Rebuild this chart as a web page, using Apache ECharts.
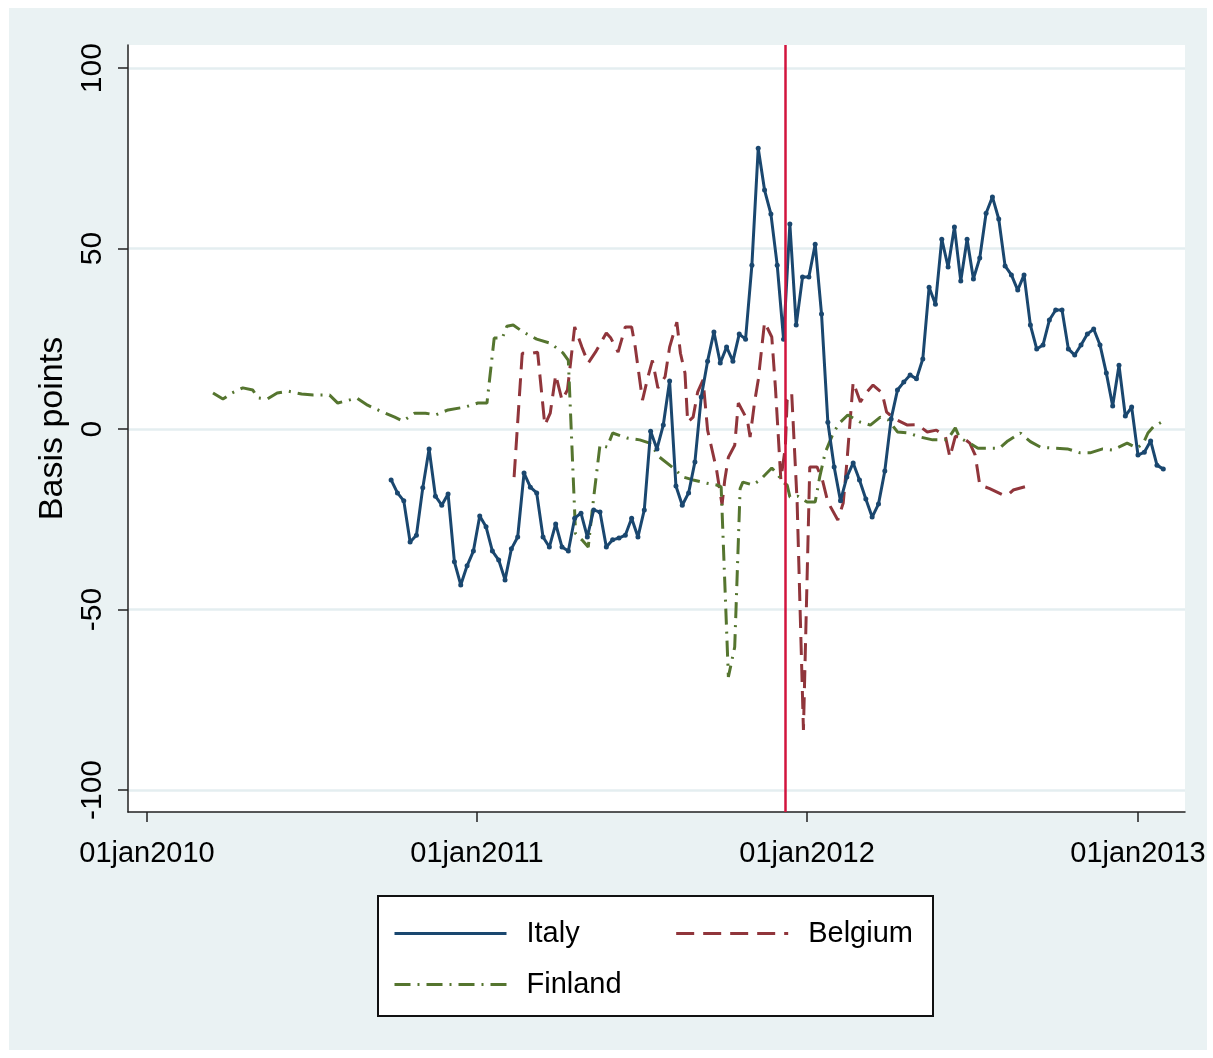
<!DOCTYPE html>
<html><head><meta charset="utf-8">
<script src="https://cdn.jsdelivr.net/npm/echarts@6/dist/echarts.min.js"></script>
<style>html,body{margin:0;padding:0;background:#fff}#c{width:1213px;height:1058px}</style>
</head><body><div id="c"></div>
<script>
// ---- data ----
const seriesNames = ['Italy', 'Belgium', 'Finland'];
const italyStart = '2010-09-28';   // weekly observations from this date
const italyValues = [
  -14.1, -17.7, -19.9, -31.3, -29.4, -16.3, -5.5, -18.6, -21.1, -18.0,
  -36.8, -43.2, -37.9, -33.8, -24.1, -27.1, -33.8, -36.3, -41.8, -33.2,
  -29.9, -12.2, -16.1, -17.7, -29.9, -32.7, -26.3, -32.7, -33.8, -24.7,
  -23.3, -29.9, -22.4, -23.0, -32.7, -30.7, -30.2, -29.4, -24.7, -29.9,
  -22.4, -0.6, -5.5, 1.1, 13.3, -15.8, -21.1, -17.7, -9.1, 8.9,
  18.8, 26.9, 18.3, 22.7, 18.8, 26.3, 24.9, 45.4, 77.8, 66.2,
  59.6, 45.4, 24.9, 56.8, 28.8, 42.1, 42.1, 51.2, 31.9, 1.9,
  -10.5, -19.9, -13.3, -9.4, -14.1, -19.4, -24.4, -20.8, -11.6, 2.8,
  10.8, 13.0, 15.0, 13.9, 19.4, 39.3, 34.6, 52.6, 44.9, 56.0,
  41.0, 52.6, 41.6, 47.4, 59.8, 64.3, 58.2, 45.2, 42.7, 38.5,
  42.7, 28.8, 22.2, 23.3, 30.2, 33.0, 33.0, 22.2, 20.5, 23.3,
  26.3, 27.7, 23.3, 15.5, 6.4, 17.7, 3.6, 6.1, -7.2, -6.4,
  -3.3, -10.0, -11.1
];
// days counted from 01jan2010
const belgiumDays = [
  406, 415, 426, 432, 440, 446, 452, 459, 465, 473, 481, 488, 496, 508, 513, 521, 529, 536, 540, 548,
  554, 559, 565, 573, 578, 586, 590, 595, 598, 604, 609, 615, 620, 625, 630, 636, 639, 643, 650, 654,
  664, 667, 672, 676, 683, 691, 695, 698, 701, 706, 708, 713, 719, 726, 733, 741, 747, 753, 764, 770,
  774, 781, 789, 796, 803, 813, 818, 827, 841, 852, 863, 873, 883, 888, 894, 903, 910, 916, 921, 932,
  947, 952, 958, 971
];
const belgiumValues = [
  -13.3, 21.0, 21.0, 21.3, 1.1, 4.4, 15.0, 8.0, 10.8, 28.3, 22.7, 18.3, 21.3, 26.6, 25.2, 21.3, 28.3, 28.3, 22.7, 8.0,
  14.4, 19.0, 11.4, 14.5, 22.7, 29.6, 21.0, 15.5, 1.9, 3.3, 10.2, 13.6, -0.3, -5.8, -11.4, -21.0, -14.1, -7.8, -4.5, 7.2,
  2.5, -2.2, 7.5, 13.6, 29.6, 25.5, 11.6, -1.1, -14.0, -5.0, 8.0, 10.0, -20.0, -83.4, -10.5, -10.5, -14.1, -20.2, -25.2, -20.5,
  -9.4, 13.0, 7.5, 10.2, 12.2, 10.0, 4.7, 2.8, 1.1, 1.2, -0.8, -0.3, -2.0, -7.8, -2.0, -2.5, -3.9, -7.2, -15.5, -16.5,
  -18.3, -18.3, -16.9, -16.0
];
const finlandDays = [
  73, 84, 94, 106, 117, 123, 133, 144, 156, 171, 184, 202, 211, 232, 244, 258, 274, 283, 296, 308,
  319, 333, 352, 366, 376, 384, 393, 398, 405, 416, 431, 446, 460, 466, 474, 481, 488, 494, 501, 509,
  515, 531, 545, 556, 567, 582, 593, 604, 619, 630, 635, 643, 650, 656, 659, 670, 678, 691, 698, 703,
  708, 711, 720, 730, 739, 744, 750, 759, 766, 775, 789, 800, 811, 820, 830, 842, 855, 869, 885, 894,
  899, 910, 919, 932, 943, 952, 966, 977, 988, 1002, 1018, 1032, 1043, 1057, 1068, 1084, 1095, 1102, 1107, 1113,
  1126
];
const finlandValues = [
  10.0, 8.3, 10.0, 11.4, 10.8, 8.6, 8.3, 10.0, 10.5, 9.7, 9.4, 9.4, 7.2, 8.6, 6.6, 5.0, 3.3, 2.2, 4.4, 4.4,
  3.9, 5.3, 6.1, 7.2, 7.2, 25.2, 25.2, 28.5, 28.8, 26.9, 24.9, 23.8, 21.1, 19.0, -29.0, -30.7, -32.7, -19.0, -4.4, -5.0,
  -1.1, -2.5, -3.0, -3.9, -7.8, -10.8, -13.3, -14.1, -15.0, -15.5, -16.0, -68.7, -60.4, -16.5, -14.7, -15.5, -14.1, -10.8, -12.7, -14.7,
  -15.5, -18.8, -18.6, -20.2, -20.2, -13.3, -6.6, -1.1, 1.7, 3.9, 1.9, 1.1, 3.3, 2.5, -0.8, -1.1, -2.2, -3.0, -3.0, 0.3,
  -2.5, -3.9, -5.3, -5.3, -5.3, -3.3, -1.1, -3.5, -5.0, -5.3, -5.5, -6.6, -6.6, -5.5, -5.8, -3.9, -5.3, -3.9, -1.1, 0.6,
  2.5
];
const xTickDates = ['2010-01-01', '2011-01-01', '2012-01-01', '2013-01-01'];
const yTicks = [-100, -50, 0, 50, 100];
const eventDate = '2011-12-08';
const xRange = ['2009-12-11', '2013-02-22'];
const yRange = [-106.1, 106.4];

// ---- build ----
const DAY = 86400000;
const BASE = Date.parse('2010-01-01');
const italyData = italyValues.map((v, i) => [Date.parse(italyStart) + i * 7 * DAY, v]);
const belgiumData = belgiumDays.map((d, i) => [BASE + d * DAY, belgiumValues[i]]);
const finlandData = finlandDays.map((d, i) => [BASE + d * DAY, finlandValues[i]]);
const xTicks = xTickDates.map(s => Date.parse(s));
const monthNames = ['jan','feb','mar','apr','may','jun','jul','aug','sep','oct','nov','dec'];

const FONT = '"Liberation Sans", Arial, Helvetica, sans-serif';
const legendText = {fontSize: 29, color: '#000', fontFamily: FONT, padding: [0, 0, 0, 15]};
const chart = echarts.init(document.getElementById('c'), null, {renderer: 'canvas'});
chart.setOption({
  animation: false,
  backgroundColor: '#ffffff',
  textStyle: {fontFamily: FONT},
  graphic: [
    {type: 'rect', z: -10, shape: {x: 9, y: 8, width: 1198, height: 1042}, style: {fill: '#EAF2F3'}},
    {type: 'rect', z: 1, shape: {x: 378, y: 896, width: 555, height: 120}, style: {fill: '#ffffff', stroke: '#111', lineWidth: 2}}
  ],
  grid: {left: 128, top: 45, width: 1057, height: 767, show: true, backgroundColor: '#ffffff', borderWidth: 0},
  legend: [
    {data: ['Italy', 'Belgium'], left: 393, top: 919, padding: 0, orient: 'horizontal', itemWidth: 112, itemHeight: 14, itemGap: 95,
     itemStyle: {opacity: 0}, lineStyle: {width: 3}, textStyle: legendText, z: 5},
    {data: ['Finland'], left: 393, top: 970, padding: 0, orient: 'horizontal', itemWidth: 112, itemHeight: 14,
     itemStyle: {opacity: 0}, lineStyle: {width: 3}, textStyle: legendText, z: 5}
  ],
  xAxis: {
    type: 'value',
    min: Date.parse(xRange[0]), max: Date.parse(xRange[1]),
    axisLine: {show: true, onZero: false, lineStyle: {color: '#222', width: 1.5}},
    axisTick: {show: true, length: 10, customValues: xTicks, lineStyle: {color: '#222', width: 1.5}},
    axisLabel: {
      customValues: xTicks, fontSize: 29, color: '#000', fontFamily: FONT, margin: 27,
      formatter: v => { const d = new Date(v); return String(d.getUTCDate()).padStart(2, '0') + monthNames[d.getUTCMonth()] + d.getUTCFullYear(); }
    },
    splitLine: {show: false}
  },
  yAxis: {
    type: 'value', min: yRange[0], max: yRange[1],
    name: 'Basis points', nameLocation: 'middle', nameRotate: 90, nameGap: 46,
    nameTextStyle: {fontSize: 34, color: '#000', fontFamily: FONT},
    axisLine: {show: true, onZero: false, lineStyle: {color: '#222', width: 1.5}},
    axisTick: {show: true, length: 10, customValues: yTicks, lineStyle: {color: '#222', width: 1.5}},
    axisLabel: {customValues: yTicks, rotate: 90, fontSize: 30, color: '#000', fontFamily: FONT, margin: 20},
    splitLine: {show: true, lineStyle: {color: '#E4EEF0', width: 2.5}}
  },
  series: [
    {name: seriesNames[0], type: 'line', data: italyData, showSymbol: true, showAllSymbol: true,
     symbol: 'circle', symbolSize: 5, color: '#1A476F', lineStyle: {width: 3, color: '#1A476F'}, z: 4,
     markLine: {silent: true, symbol: 'none', label: {show: false},
       lineStyle: {color: '#D2143E', width: 2.5, type: 'solid'}, data: [{xAxis: Date.parse(eventDate)}]}},
    {name: seriesNames[1], type: 'line', data: belgiumData, showSymbol: false, color: '#90353B',
     lineStyle: {width: 3, color: '#90353B', type: [18, 9]}, z: 3},
    {name: seriesNames[2], type: 'line', data: finlandData, showSymbol: false, color: '#55752F',
     lineStyle: {width: 3, color: '#55752F', type: [16, 7, 2, 7]}, z: 3}
  ]
});
</script></body></html>
